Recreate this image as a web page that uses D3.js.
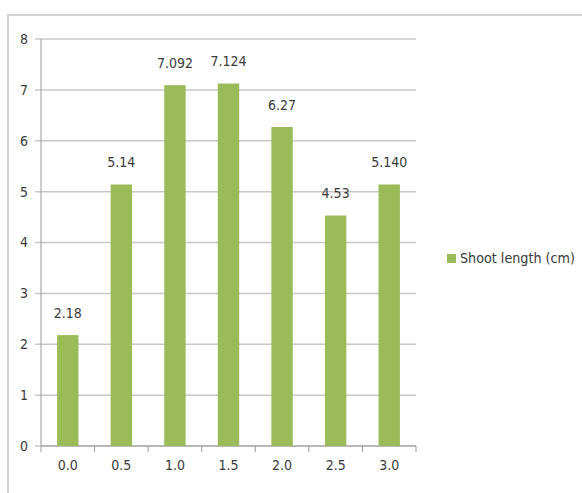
<!DOCTYPE html>
<html><head><meta charset="utf-8">
<script src="https://cdn.jsdelivr.net/npm/d3@7"></script>
<style>
body{margin:0;background:#fff;}
svg{display:block;}
text{font-family:"Liberation Sans Narrow","DejaVu Sans Condensed","Open Sans",sans-serif;fill:#3a3a3a;}
</style></head>
<body><svg id="c" width="582" height="493"></svg>
<script>
const categories = ["0.0","0.5","1.0","1.5","2.0","2.5","3.0"];
const values = [2.18, 5.14, 7.092, 7.124, 6.27, 4.53, 5.140];
const valueLabels = ["2.18","5.14","7.092","7.124","6.27","4.53","5.140"];
const yTicks = [0,1,2,3,4,5,6,7,8];
const seriesName = "Shoot length (cm)";

(function(){
const svg = d3.select("#c");
// outer frame
svg.append("path").attr("d","M8,493 V15 H582").attr("fill","none").attr("stroke","#d4d4d4").attr("stroke-width",2);

const pL = 41, pR = 416, pT = 39, pB = 446;
const x = d3.scaleBand().domain(categories).range([pL,pR]).paddingInner(0.6).paddingOuter(0.3);
const xb = d3.scaleBand().domain(categories).range([pL,pR]);
const y = d3.scaleLinear().domain([0,8]).range([pB,pT]);

// gridlines
svg.append("g").selectAll("line").data(yTicks).join("line")
  .attr("x1",pL-6).attr("x2",pR).attr("y1",d=>y(d)).attr("y2",d=>y(d))
  .attr("stroke","#c8c8c8").attr("stroke-width",1.5);

// y axis line
svg.append("line").attr("x1",pL).attr("x2",pL).attr("y1",pT).attr("y2",pB).attr("stroke","#999").attr("stroke-width",1);
// y labels
svg.append("g").selectAll("text").data(yTicks).join("text")
  .attr("x",pL-17).attr("y",d=>y(d)).attr("dy","0.35em").attr("text-anchor","middle")
  .attr("font-size",14).text(d=>d);

// x axis
const xa = svg.append("g");
xa.append("line").attr("x1",pL).attr("x2",pR).attr("y1",pB).attr("y2",pB).attr("stroke","#999");
const tickPos = categories.map(c=>xb(c)).concat([pR]);
xa.selectAll("line.t").data(tickPos).join("line").attr("class","t")
  .attr("x1",d=>d).attr("x2",d=>d).attr("y1",pB).attr("y2",pB+6).attr("stroke","#999");
xa.selectAll("text").data(categories).join("text")
  .attr("x",d=>xb(d)+xb.bandwidth()/2).attr("y",pB+19).attr("dy","0.35em")
  .attr("text-anchor","middle").attr("font-size",14).text(d=>d);

// bars
svg.append("g").selectAll("rect").data(values).join("rect")
  .attr("x",(d,i)=>x(categories[i])).attr("width",x.bandwidth())
  .attr("y",d=>y(d)).attr("height",d=>pB-y(d)).attr("fill","#9bbb59");

// value labels
svg.append("g").selectAll("text").data(values).join("text")
  .attr("x",(d,i)=>x(categories[i])+x.bandwidth()/2).attr("y",d=>y(d)-22).attr("dy","0.35em")
  .attr("text-anchor","middle").attr("font-size",14).text((d,i)=>valueLabels[i]);

// legend
svg.append("rect").attr("x",447).attr("y",254).attr("width",9).attr("height",9).attr("fill","#9bbb59");
svg.append("text").attr("x",460).attr("y",258.5).attr("dy","0.35em").attr("font-size",14.2).text(seriesName);
})();
</script></body></html>
